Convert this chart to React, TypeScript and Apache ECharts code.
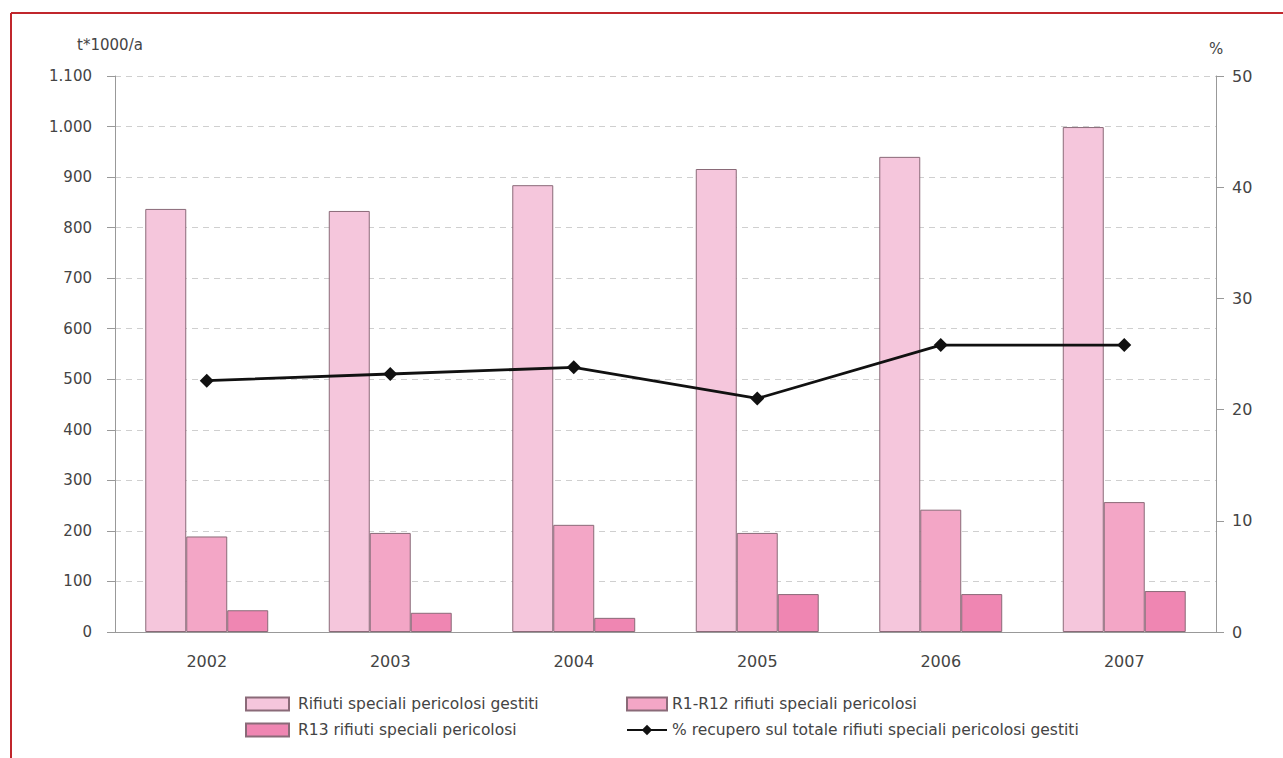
import React, { useEffect, useRef } from "react";
import * as echarts from "echarts";

const years = ["2002", "2003", "2004", "2005", "2006", "2007"];
const gestiti = [837, 833, 884, 916, 940, 999];
const r1r12 = [189, 196, 212, 196, 242, 257];
const r13 = [43, 38, 28, 75, 75, 81];
const recupero = [22.6, 23.2, 23.8, 21.0, 25.8, 25.8];

const seriesNames = [
  "Rifiuti speciali pericolosi gestiti",
  "R1-R12 rifiuti speciali pericolosi",
  "R13 rifiuti speciali pericolosi",
  "% recupero sul totale rifiuti speciali pericolosi gestiti",
];

const FONT = "'DejaVu Sans', sans-serif";
const TXT = "#444";
const BORDER = "#8a6a78";

export default function App() {
  const ref = useRef<HTMLDivElement>(null);
  useEffect(() => {
    document.body.style.margin = "0";
    const chart = echarts.init(ref.current!, null, { renderer: "svg" });
    const barStyle = (color: string) => ({ color, borderColor: BORDER, borderWidth: 1 });
    const legendText = { fontSize: 15.5, color: TXT, fontFamily: FONT, lineHeight: 14 };
    chart.setOption({
      animation: false,
      backgroundColor: "#fff",
      textStyle: { fontFamily: FONT, color: TXT },
      grid: { left: 115, right: 67, top: 76, bottom: 126, containLabel: false },
      graphic: [
        { type: "line", shape: { x1: 11, y1: 13, x2: 1283, y2: 13 }, style: { stroke: "#c0262c", lineWidth: 2 } },
        { type: "line", shape: { x1: 11, y1: 13, x2: 11, y2: 758 }, style: { stroke: "#c0262c", lineWidth: 2 } },
      ],
      legend: [
        {
          left: 240,
          top: 691,
          orient: "vertical",
          itemWidth: 43,
          itemHeight: 13,
          itemGap: 10,
          textStyle: { ...legendText, padding: [0, 0, 0, 4] },
          data: [
            { name: seriesNames[0], icon: "rect" },
            { name: seriesNames[2], icon: "rect" },
          ],
        },
        {
          left: 621,
          top: 691,
          orient: "vertical",
          itemWidth: 40,
          itemHeight: 13,
          itemGap: 10,
          textStyle: { ...legendText, padding: [0, 0, 0, 0] },
          data: [{ name: seriesNames[1], icon: "rect" }, seriesNames[3]],
        },
      ],
      xAxis: {
        type: "category",
        data: years,
        axisLine: { lineStyle: { color: "#999" } },
        axisTick: { length: 7, lineStyle: { color: "#999" } },
        axisLabel: { fontSize: 16, color: TXT, margin: 21, fontFamily: FONT },
      },
      yAxis: [
        {
          type: "value",
          min: 0,
          max: 1100,
          interval: 100,
          name: "t*1000/a",
          nameLocation: "end",
          nameGap: 24,
          nameTextStyle: { fontSize: 15, color: TXT, align: "center", padding: [0, 10, 0, 0], fontFamily: FONT },
          axisLine: { show: true, lineStyle: { color: "#999" } },
          axisTick: { show: true, length: 8, lineStyle: { color: "#999" } },
          axisLabel: {
            fontSize: 15,
            color: TXT,
            margin: 23,
            fontFamily: FONT,
            formatter: (v: number) => String(v).replace(/\B(?=(\d{3})+(?!\d))/g, "."),
          },
          splitLine: { lineStyle: { color: "#cfcfcf", type: [6, 5] } },
        },
        {
          type: "value",
          min: 0,
          max: 50,
          interval: 10,
          name: "%",
          nameLocation: "end",
          nameGap: 20,
          nameTextStyle: { fontSize: 15, color: TXT, align: "center", fontFamily: FONT },
          axisLine: { show: true, lineStyle: { color: "#999" } },
          axisTick: { show: true, length: 8, lineStyle: { color: "#999" } },
          axisLabel: { fontSize: 16, color: TXT, margin: 16, fontFamily: FONT },
          splitLine: { show: false },
        },
      ],
      series: [
        {
          name: seriesNames[0],
          type: "bar",
          data: gestiti,
          itemStyle: barStyle("#f5c6dc"),
          barGap: "0%",
          barCategoryGap: "33%",
        },
        {
          name: seriesNames[1],
          type: "bar",
          data: r1r12,
          itemStyle: barStyle("#f3a6c6"),
          barGap: "0%",
          barCategoryGap: "33%",
        },
        {
          name: seriesNames[2],
          type: "bar",
          data: r13,
          itemStyle: barStyle("#ef86b2"),
          barGap: "0%",
          barCategoryGap: "33%",
        },
        {
          name: seriesNames[3],
          type: "line",
          yAxisIndex: 1,
          data: recupero,
          symbol: "diamond",
          symbolSize: 14,
          lineStyle: { color: "#111", width: 2.8 },
          itemStyle: { color: "#111" },
          z: 5,
        },
      ],
    });
    return () => chart.dispose();
  }, []);
  return <div ref={ref} style={{ width: 1283, height: 758 }} />;
}
